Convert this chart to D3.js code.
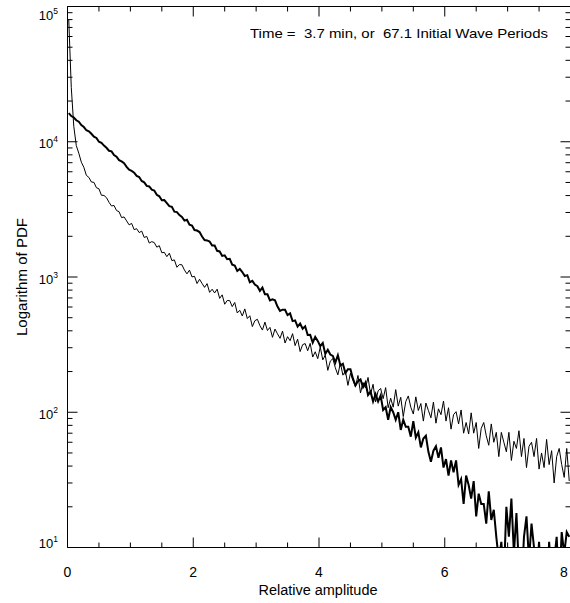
<!DOCTYPE html>
<html><head><meta charset="utf-8">
<script src="https://cdn.jsdelivr.net/npm/d3@7"></script>
<style>
body{margin:0;background:#fff}
text{font-family:"Liberation Sans",Arial,Helvetica,sans-serif;fill:#000}
</style>
</head><body><svg id="c" width="570" height="603"></svg>
<script>
// ---- data ----
const binWidth = 0.04;
const xDomain = [0, 8];
const yDomain = [10, 100000];
const xMajorTicks = [0, 2, 4, 6, 8];
const xTickLabels = ["0", "2", "4", "6", "8"];
const yMajorTicks = [10, 100, 1000, 10000, 100000];
const yTickBase = "10";
const yTickExponents = ["1", "2", "3", "4", "5"];
const titleText = "Time =  3.7 min, or  67.1 Initial Wave Periods";
const xTitle = "Relative amplitude";
const yTitle = "Logarithm of PDF";

// thick curve (bins of width 0.04 starting at 0)
const pdfThick = [
16290,15490,15120,14420,14060,13270,12850,12160,11960,11450,
10910,10670,10000,9800,9360,9030,8580,8490,7970,7760,
7310,7150,6930,6520,6210,6080,5910,5590,5490,5130,
5010,4720,4670,4420,4360,4050,3950,3690,3700,3520,
3340,3300,3040,3020,2870,2780,2610,2650,2440,2400,
2223,2206,2149,1991,1878,1865,1831,1711,1710,1561,
1544,1431,1446,1354,1363,1233,1213,1109,1148,1088,
1018,1032,915,937,880,855,790,835,744,744,
671,684,673,605,562,573,572,523,538,472,
478,430,452,414,432,373,374,327,361,337,
308,325,270,290,267,261,233,264,222,228,
195,208,208,177,158,170,175,153,166,134,
142,120,136,120,133,104,109,88,109,100,
88,100,74,88,78,78,66,86,65,71,
55,64,67,51,43,52,56,46,55,39,
45,34,44,36,44,29,32,21,34,29,
23,31,17,25,21,21,15,26,16,19,
12,8,11,6,20,12,23,9,18,7,
5,12,17,8,15,10,6,11,5,8,
4,11,6,8,12,5,13,9,13,12
];
// thin curve
const pdfThin = [
79750,25240,12990,9360,8220,7060,6470,5640,5450,5040,
5010,4570,4490,4020,4010,3860,3570,3350,3380,3100,
3040,2750,2780,2600,2430,2490,2240,2275,2130,2185,
1960,1996,1782,1826,1797,1662,1704,1511,1522,1414,
1500,1322,1338,1180,1236,1231,1125,1055,1124,1001,
1012,895,962,896,838,893,770,812,762,813,
695,738,629,670,669,604,648,542,567,515,
581,493,517,430,475,487,437,405,464,402,
424,358,412,380,352,398,325,362,338,381,
311,347,281,316,322,285,323,256,280,249,
303,244,264,204,239,249,213,189,231,188,
202,158,194,172,154,187,139,166,151,181,
136,161,119,144,150,126,152,108,127,109,
147,111,129,93,120,132,109,97,130,103,
116,86,117,103,91,119,83,106,96,121,
86,108,75,96,101,82,104,70,84,69,
99,70,84,54,76,84,67,57,82,60,
71,47,71,60,51,71,44,61,54,73,
47,64,39,56,60,47,64,38,50,39,
63,41,52,30,47,54,41,33,54,31
];

// ---- layout ----
const W = 570, H = 603;
const m = {l: 67.5, r: 570.5, t: 6.5, b: 547.5};
const svg = d3.select("#c");
svg.append("rect").attr("width", W).attr("height", H).attr("fill", "#fff");

const x = d3.scaleLinear(xDomain, [m.l, m.r]);
const y = d3.scaleLog(yDomain, [m.b, m.t]);

const xMinor = d3.range(xDomain[0], xDomain[1] + 0.001, 0.5).filter(v => !xMajorTicks.includes(v));
const yMinor = y.ticks().filter(v => !yMajorTicks.includes(v));

// clip
svg.append("clipPath").attr("id", "clip").append("rect")
  .attr("x", m.l).attr("y", m.t).attr("width", m.r - m.l).attr("height", m.b - m.t);

// curves through bin centres
const pts = arr => arr.map((v, i) => [(i + 0.5) * binWidth, v]);
const line = d3.line().x(d => x(d[0])).y(d => y(d[1])).curve(d3.curveLinear);
const plot = svg.append("g").attr("clip-path", "url(#clip)");
plot.append("path").attr("d", line(pts(pdfThin)))
  .attr("fill", "none").attr("stroke", "#000").attr("stroke-width", 1)
  .attr("stroke-linejoin", "miter");
plot.append("path").attr("d", line(pts(pdfThick)))
  .attr("fill", "none").attr("stroke", "#000").attr("stroke-width", 2)
  .attr("stroke-linejoin", "miter");

// axes (ticks pointing inward)
function axisPair(gen, pos, major, minor, majLen, minLen) {
  const g = svg.append("g").attr("transform", pos);
  g.call(gen.tickValues(major).tickSize(majLen).tickSizeOuter(0).tickFormat("").offset(0));
  const g2 = svg.append("g").attr("transform", pos);
  g2.call(gen.tickValues(minor).tickSize(minLen).tickSizeOuter(0).tickFormat("").offset(0));
  g2.select(".domain").remove();
  svg.selectAll(".domain, .tick line").attr("stroke", "#000").attr("stroke-width", 1);
}
axisPair(d3.axisBottom(x), `translate(0,${m.b})`, xMajorTicks, xMinor, -10, -5);
axisPair(d3.axisTop(x), `translate(0,${m.t})`, xMajorTicks, xMinor, -10, -5);
axisPair(d3.axisLeft(y), `translate(${m.l},0)`, yMajorTicks, yMinor, -10, -5);
axisPair(d3.axisRight(y), `translate(${m.r},0)`, yMajorTicks, yMinor, -10, -5);

// x tick labels (kept inside the window)
svg.append("g").selectAll("text").data(xMajorTicks).join("text")
  .attr("x", d => Math.min(x(d), W - 6)).attr("y", m.b + 29)
  .attr("text-anchor", "middle").attr("font-size", 14)
  .text((d, i) => xTickLabels[i]);

// y tick labels (10^n)
const yl = svg.append("g").selectAll("text").data(yMajorTicks).join("text")
  .attr("x", 58)
  .attr("y", d => Math.max(m.t + 9, Math.min(m.b - 4, y(d) + 2)) + 4.5)
  .attr("text-anchor", "end").attr("font-size", 13);
yl.append("tspan").text(yTickBase);
yl.append("tspan").attr("dy", -6).attr("font-size", 8.5).text((d, i) => yTickExponents[i]);

// titles
svg.append("text").attr("x", (m.l + m.r) / 2 - 1).attr("y", 595)
  .attr("text-anchor", "middle").attr("font-size", 14)
  .attr("textLength", 119).attr("lengthAdjust", "spacingAndGlyphs").text(xTitle);
svg.append("text").attr("transform", `translate(27,${(m.t + m.b) / 2}) rotate(-90)`)
  .attr("text-anchor", "middle").attr("font-size", 14)
  .attr("textLength", 118).attr("lengthAdjust", "spacingAndGlyphs").text(yTitle);
svg.append("text").attr("x", 250).attr("y", 38).attr("font-size", 13.5)
  .attr("textLength", 298).attr("lengthAdjust", "spacingAndGlyphs")
  .style("white-space", "pre").text(titleText);
</script>
</body></html>
